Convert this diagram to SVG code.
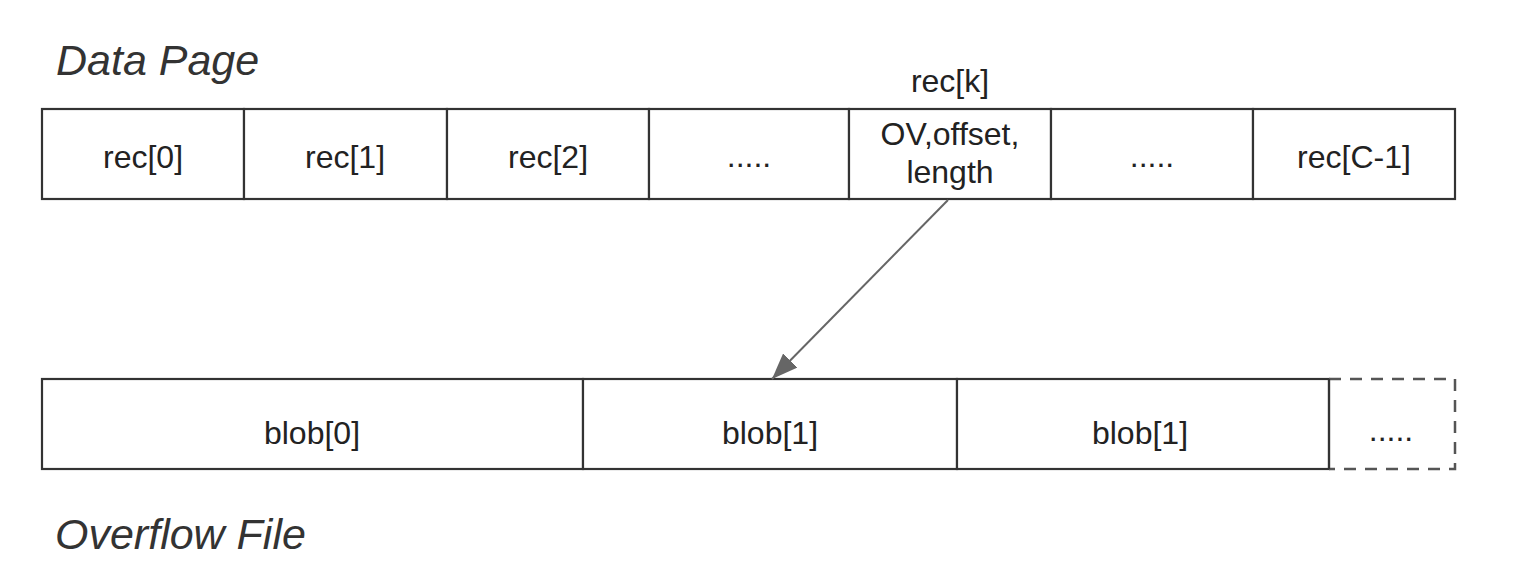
<svg xmlns="http://www.w3.org/2000/svg" width="1522" height="584" viewBox="0 0 1522 584">
<defs>
<style>
.cell{fill:#fff;stroke:#333;stroke-width:2.2}
.t{font-family:"Liberation Sans",Arial,sans-serif;font-size:32px;fill:#222;text-anchor:middle}
.title{font-family:"Liberation Sans",Arial,sans-serif;font-size:43px;font-style:italic;fill:#333}
.dash{fill:none;stroke:#555;stroke-width:2.5;stroke-dasharray:12 9}
.conn{stroke:#666;stroke-width:2;fill:none}
</style>
<marker id="ah2" viewBox="0 0 26 20" refX="26" refY="10" markerWidth="26" markerHeight="20" markerUnits="userSpaceOnUse" orient="auto">
<path d="M0,0 L26,10 L0,20 z" fill="#666"/>
</marker>
</defs>
<rect width="1522" height="584" fill="#fff"/>
<text class="title" x="56" y="75">Data Page</text>
<text class="title" x="55" y="549">Overflow File</text>
<g id="rec0"><rect class="cell" x="42" y="109" width="202" height="90"/><text class="t" x="143" y="168">rec[0]</text></g>
<g id="rec1"><rect class="cell" x="244" y="109" width="203" height="90"/><text class="t" x="345" y="168">rec[1]</text></g>
<g id="rec2"><rect class="cell" x="447" y="109" width="202" height="90"/><text class="t" x="548" y="168">rec[2]</text></g>
<g id="recdots1"><rect class="cell" x="649" y="109" width="200" height="90"/><text class="t" x="749" y="167">.....</text></g>
<g id="reck"><rect class="cell" x="849" y="109" width="202" height="90"/><text class="t" x="950" y="92">rec[k]</text><text class="t" x="950" y="145">OV,offset,</text><text class="t" x="950" y="183">length</text></g>
<g id="recdots2"><rect class="cell" x="1051" y="109" width="202" height="90"/><text class="t" x="1152" y="167">.....</text></g>
<g id="recC1"><rect class="cell" x="1253" y="109" width="202" height="90"/><text class="t" x="1354" y="168">rec[C-1]</text></g>
<g id="blob0"><rect class="cell" x="42" y="379" width="541" height="90"/><text class="t" x="312" y="444">blob[0]</text></g>
<g id="blob1"><rect class="cell" x="583" y="379" width="374" height="90"/><text class="t" x="770" y="444">blob[1]</text></g>
<g id="blob2"><rect class="cell" x="957" y="379" width="372" height="90"/><text class="t" x="1140" y="444">blob[1]</text></g>
<g id="blobdots"><path class="dash" d="M1329,379 H1455 V469 H1329"/><line x1="1329" y1="379" x2="1329" y2="469" stroke="#333" stroke-width="2.2"/><text class="t" x="1391" y="441">.....</text></g>
<g id="connectors"><line class="conn" x1="948" y1="200" x2="772" y2="379" marker-end="url(#ah2)"/></g>
</svg>
